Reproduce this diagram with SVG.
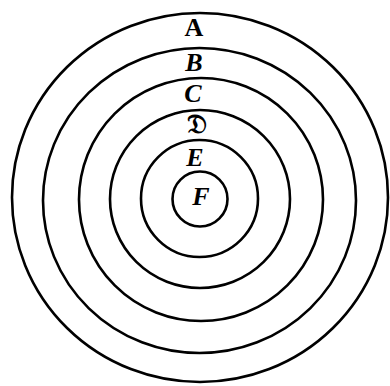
<svg xmlns="http://www.w3.org/2000/svg" width="390" height="386" viewBox="0 0 390 386">
<style>
.ring{fill:none;stroke:#000;stroke-width:2.6}
.lbl{font-family:"Liberation Serif","DejaVu Serif",serif;font-size:26px;font-weight:bold;text-anchor:middle;fill:#000}
.it{font-style:italic}
</style>
<rect width="390" height="386" fill="#fff"/>
<g id="ringA"><ellipse class="ring" cx="200" cy="197.5" rx="188" ry="184.5"/><text class="lbl" x="194" y="36">A</text></g>
<g id="ringB"><ellipse class="ring" cx="199.5" cy="200.5" rx="156.5" ry="152.5"/><text class="lbl it" x="194" y="71">B</text></g>
<g id="ringC"><ellipse class="ring" cx="201" cy="199.5" rx="122" ry="121.5"/><text class="lbl it" x="193" y="102">C</text></g>
<g id="ringD"><ellipse class="ring" cx="200" cy="199" rx="90" ry="89"/><text class="lbl" x="197" y="133" style="font-size:27px">𝔇</text></g>
<g id="ringE"><ellipse class="ring" cx="199.5" cy="198.5" rx="58.5" ry="58.5"/><text class="lbl it" x="195" y="166">E</text></g>
<g id="ringF"><circle class="ring" cx="200" cy="199" r="27.5"/><text class="lbl it" x="201" y="205">F</text></g>
</svg>
